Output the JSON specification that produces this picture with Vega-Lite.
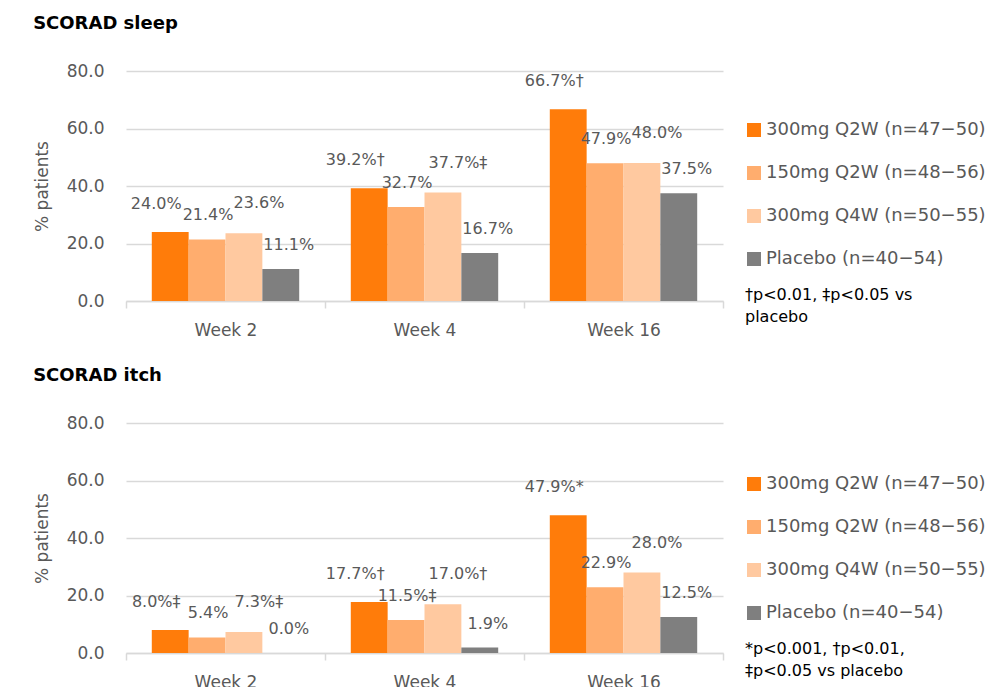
{
  "$schema": "https://vega.github.io/schema/vega-lite/v6.json",
  "background": "white",
  "padding": {"left": 33, "top": 15, "right": 0, "bottom": 0},
  "autosize": {"type": "pad"},
  "datasets": {
    "sleep": [
      {"week": "Week 2", "group": "300mg Q2W (n=47−50)", "pct": 24.0, "label": "24.0%"},
      {"week": "Week 2", "group": "150mg Q2W (n=48−56)", "pct": 21.4, "label": "21.4%"},
      {"week": "Week 2", "group": "300mg Q4W (n=50−55)", "pct": 23.6, "label": "23.6%"},
      {"week": "Week 2", "group": "Placebo (n=40−54)", "pct": 11.1, "label": "11.1%"},
      {"week": "Week 4", "group": "300mg Q2W (n=47−50)", "pct": 39.2, "label": "39.2%†"},
      {"week": "Week 4", "group": "150mg Q2W (n=48−56)", "pct": 32.7, "label": "32.7%"},
      {"week": "Week 4", "group": "300mg Q4W (n=50−55)", "pct": 37.7, "label": "37.7%‡"},
      {"week": "Week 4", "group": "Placebo (n=40−54)", "pct": 16.7, "label": "16.7%"},
      {"week": "Week 16", "group": "300mg Q2W (n=47−50)", "pct": 66.7, "label": "66.7%†"},
      {"week": "Week 16", "group": "150mg Q2W (n=48−56)", "pct": 47.9, "label": "47.9%"},
      {"week": "Week 16", "group": "300mg Q4W (n=50−55)", "pct": 48.0, "label": "48.0%"},
      {"week": "Week 16", "group": "Placebo (n=40−54)", "pct": 37.5, "label": "37.5%"}
    ],
    "itch": [
      {"week": "Week 2", "group": "300mg Q2W (n=47−50)", "pct": 8.0, "label": "8.0%‡"},
      {"week": "Week 2", "group": "150mg Q2W (n=48−56)", "pct": 5.4, "label": "5.4%"},
      {"week": "Week 2", "group": "300mg Q4W (n=50−55)", "pct": 7.3, "label": "7.3%‡"},
      {"week": "Week 2", "group": "Placebo (n=40−54)", "pct": 0.0, "label": "0.0%"},
      {"week": "Week 4", "group": "300mg Q2W (n=47−50)", "pct": 17.7, "label": "17.7%†"},
      {"week": "Week 4", "group": "150mg Q2W (n=48−56)", "pct": 11.5, "label": "11.5%‡"},
      {"week": "Week 4", "group": "300mg Q4W (n=50−55)", "pct": 17.0, "label": "17.0%†"},
      {"week": "Week 4", "group": "Placebo (n=40−54)", "pct": 1.9, "label": "1.9%"},
      {"week": "Week 16", "group": "300mg Q2W (n=47−50)", "pct": 47.9, "label": "47.9%*"},
      {"week": "Week 16", "group": "150mg Q2W (n=48−56)", "pct": 22.9, "label": "22.9%"},
      {"week": "Week 16", "group": "300mg Q4W (n=50−55)", "pct": 28.0, "label": "28.0%"},
      {"week": "Week 16", "group": "Placebo (n=40−54)", "pct": 12.5, "label": "12.5%"}
    ]
  },
  "spacing": 29,
  "vconcat": [
    {
      "title": {"text": "SCORAD sleep"},
      "width": 597,
      "height": 230,
      "data": {"name": "sleep"},
      "encoding": {
        "x": {"field": "week", "type": "nominal", "scale": {"domain": ["Week 2", "Week 4", "Week 16"], "paddingInner": 0, "paddingOuter": 0}, "axis": {"title": null}},
        "xOffset": {"field": "group", "type": "nominal", "scale": {"domain": ["300mg Q2W (n=47−50)", "150mg Q2W (n=48−56)", "300mg Q4W (n=50−55)", "Placebo (n=40−54)"], "paddingInner": 0, "paddingOuter": 0.7}},
        "y": {"field": "pct", "type": "quantitative", "scale": {"domain": [0, 80], "nice": false}, "axis": {"title": "% patients", "values": [0, 20, 40, 60, 80], "format": ".1f"}}
      },
      "layer": [
        {
          "mark": {"type": "bar"},
          "encoding": {
            "color": {
              "field": "group", "type": "nominal",
              "scale": {"domain": ["300mg Q2W (n=47−50)", "150mg Q2W (n=48−56)", "300mg Q4W (n=50−55)", "Placebo (n=40−54)"], "range": ["#FF7C0A", "#FFAD6E", "#FFC9A0", "#7F7F7F"]},
              "legend": {"title": ["†p<0.01, ‡p<0.05 vs", "placebo"], "legendX": 619, "legendY": 50}
            }
          }
        },
        {"transform": [{"filter": {"field": "group", "equal": "300mg Q2W (n=47−50)"}}], "mark": {"type": "text", "dx": -14, "dy": -28}, "encoding": {"text": {"field": "label"}}},
        {"transform": [{"filter": {"field": "group", "equal": "150mg Q2W (n=48−56)"}}], "mark": {"type": "text", "dx": 1, "dy": -24}, "encoding": {"text": {"field": "label"}}},
        {"transform": [{"filter": {"field": "group", "equal": "300mg Q4W (n=50−55)"}}], "mark": {"type": "text", "dx": 15, "dy": -30}, "encoding": {"text": {"field": "label"}}},
        {"transform": [{"filter": {"field": "group", "equal": "Placebo (n=40−54)"}}], "mark": {"type": "text", "dx": 8, "dy": -24}, "encoding": {"text": {"field": "label"}}}
      ]
    },
    {
      "title": {"text": "SCORAD itch"},
      "width": 597,
      "height": 230,
      "data": {"name": "itch"},
      "encoding": {
        "x": {"field": "week", "type": "nominal", "scale": {"domain": ["Week 2", "Week 4", "Week 16"], "paddingInner": 0, "paddingOuter": 0}, "axis": {"title": null}},
        "xOffset": {"field": "group", "type": "nominal", "scale": {"domain": ["300mg Q2W (n=47−50)", "150mg Q2W (n=48−56)", "300mg Q4W (n=50−55)", "Placebo (n=40−54)"], "paddingInner": 0, "paddingOuter": 0.7}},
        "y": {"field": "pct", "type": "quantitative", "scale": {"domain": [0, 80], "nice": false}, "axis": {"title": "% patients", "values": [0, 20, 40, 60, 80], "format": ".1f"}}
      },
      "layer": [
        {
          "mark": {"type": "bar"},
          "encoding": {
            "color": {
              "field": "group", "type": "nominal",
              "scale": {"domain": ["300mg Q2W (n=47−50)", "150mg Q2W (n=48−56)", "300mg Q4W (n=50−55)", "Placebo (n=40−54)"], "range": ["#FF7C0A", "#FFAD6E", "#FFC9A0", "#7F7F7F"]},
              "legend": {"title": ["*p<0.001, †p<0.01,", "‡p<0.05 vs placebo"], "legendX": 619, "legendY": 52}
            }
          }
        },
        {"transform": [{"filter": {"field": "group", "equal": "300mg Q2W (n=47−50)"}}], "mark": {"type": "text", "dx": -14, "dy": -28}, "encoding": {"text": {"field": "label"}}},
        {"transform": [{"filter": {"field": "group", "equal": "150mg Q2W (n=48−56)"}}], "mark": {"type": "text", "dx": 1, "dy": -24}, "encoding": {"text": {"field": "label"}}},
        {"transform": [{"filter": {"field": "group", "equal": "300mg Q4W (n=50−55)"}}], "mark": {"type": "text", "dx": 15, "dy": -30}, "encoding": {"text": {"field": "label"}}},
        {"transform": [{"filter": {"field": "group", "equal": "Placebo (n=40−54)"}}], "mark": {"type": "text", "dx": 8, "dy": -24}, "encoding": {"text": {"field": "label"}}}
      ]
    }
  ],
  "resolve": {"scale": {"color": "independent"}, "legend": {"color": "independent"}},
  "config": {
    "font": "DejaVu Sans",
    "view": {"stroke": null},
    "title": {"anchor": "start", "frame": "bounds", "font": "DejaVu Sans", "fontSize": 18, "fontWeight": "bold", "color": "#000000", "offset": 29},
    "axis": {"labelFont": "DejaVu Sans", "labelFontSize": 17, "labelColor": "#595959", "titleFont": "DejaVu Sans", "titleFontSize": 17, "titleFontWeight": "normal", "titleColor": "#595959", "gridColor": "#D9D9D9", "domainColor": "#D9D9D9", "tickColor": "#D9D9D9"},
    "axisX": {"grid": false, "domain": true, "domainWidth": 1.5, "ticks": true, "tickBand": "extent", "tickSize": 7, "tickWidth": 1.5, "labelAngle": 0, "labelPadding": 14},
    "axisY": {"grid": true, "gridWidth": 1.5, "domain": false, "ticks": false, "labelPadding": 22, "titlePadding": 15},
    "text": {"font": "DejaVu Sans", "fontSize": 16, "color": "#595959", "align": "center", "baseline": "middle"},
    "legend": {"orient": "none", "symbolType": "square", "symbolSize": 196, "symbolStrokeWidth": 0, "symbolOpacity": 1, "labelFont": "DejaVu Sans", "labelFontSize": 18, "labelColor": "#595959", "labelOffset": 3, "labelLimit": 300, "rowPadding": 25, "titleOrient": "bottom", "titleFont": "DejaVu Sans", "titleFontSize": 16, "titleFontWeight": "normal", "titleColor": "#000000", "titleAnchor": "start", "titleLimit": 300, "titlePadding": 19, "titleLineHeight": 22}
  }
}
